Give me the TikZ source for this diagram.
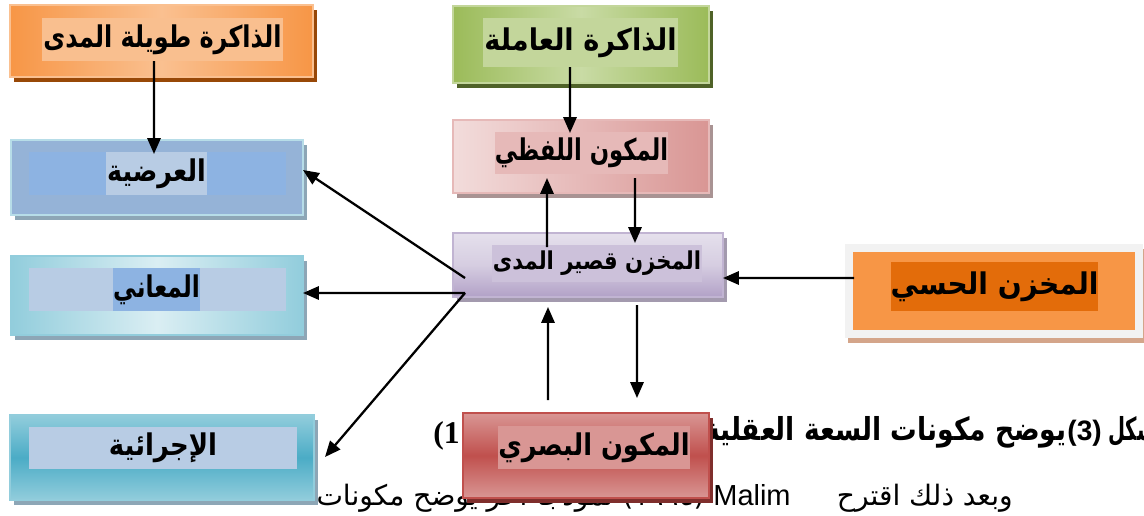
\documentclass[tikz,border=0pt]{standalone}
\usepackage{graphicx}
\usepackage{fontspec}
\setmainfont{Liberation Serif}
\newfontfamily\arfont[Script=Arabic]{DejaVu Sans}
\newfontfamily\lsans{Liberation Sans}
\TeXXeTstate=1
\usetikzlibrary{arrows.meta,shadows}
\newcommand\arlab[2]{\scalebox{#1}[1]{#2}}
\definecolor{orA}{HTML}{F79646}
\definecolor{orB}{HTML}{FAC090}
\definecolor{orC}{HTML}{F9BF8F}
\definecolor{orD}{HTML}{E36C0A}
\definecolor{orS}{HTML}{984807}
\definecolor{grA}{HTML}{9BBB59}
\definecolor{grB}{HTML}{C9DBA5}
\definecolor{grC}{HTML}{C3D69B}
\definecolor{grS}{HTML}{4F6228}
\definecolor{pkA}{HTML}{E6B9B8}
\definecolor{pkB}{HTML}{F2DCDB}
\definecolor{pkC}{HTML}{D99694}
\definecolor{pkS}{HTML}{A99393}
\definecolor{blA}{HTML}{95B3D7}
\definecolor{blB}{HTML}{8DB3E2}
\definecolor{blC}{HTML}{B8CCE4}
\definecolor{blD}{HTML}{B7DDE8}
\definecolor{blS}{HTML}{8DA6B6}
\definecolor{cyA}{HTML}{92CDDC}
\definecolor{cyB}{HTML}{DAEEF3}
\definecolor{cyC}{HTML}{4BACC6}
\definecolor{puA}{HTML}{B2A1C7}
\definecolor{puB}{HTML}{E5E0EC}
\definecolor{puC}{HTML}{CCC1DA}
\definecolor{puS}{HTML}{A39AAE}
\definecolor{rdA}{HTML}{C0504D}
\definecolor{rdB}{HTML}{D99694}
\definecolor{rdS}{HTML}{7F2E2C}
\definecolor{frm}{HTML}{F2F2F2}
\definecolor{tan}{HTML}{D4A58A}
\tikzset{
  sz/.style 2 args={minimum width=#1*0.02cm, minimum height=#2*0.02cm},
  base/.style={rectangle, inner sep=0pt, outer sep=0pt},
  shad/.style={drop shadow={shadow xshift=0.08cm, shadow yshift=-0.09cm, fill=#1, opacity=1}},
  lbl/.style={font=\arfont\bfseries\fontsize{17}{20}\selectfont},
  lblsm/.style={font=\arfont\bfseries\fontsize{14}{17}\selectfont},
  captxt/.style={font=\arfont\bfseries\fontsize{18}{21}\selectfont, inner sep=0pt},
  bodytxt/.style={font=\arfont\fontsize{16}{19}\selectfont, inner sep=0pt},
  arr/.style={line width=1.3pt, -{Triangle[length=9pt,width=7.5pt]}}
}
\begin{document}
\begin{tikzpicture}[x=0.02cm, y=-0.02cm]
\useasboundingbox (0,0) rectangle (1144,515);
\fill[white] (0,0) rectangle (1144,515);

% background text lines
\node[captxt, anchor=base east] (shk) at (1157,440) {\arlab{0.62}{\beginR شكل\endR}};
\node[font=\lsans\bfseries\fontsize{16}{19}\selectfont, inner sep=0pt, anchor=base east] (p3) at ([xshift=-0.12cm]shk.base west) {(3)};
\node[captxt, anchor=base east] (cap) at (p3.base west) {\arlab{0.84}{\beginR يوضح مكونات السعة العقلية\endR}};
\node[font=\bfseries\fontsize{18}{21}\selectfont, inner sep=0pt, anchor=base west] (one) at (433,443) {(1};

\node[bodytxt, anchor=base east] (bd1) at (1013,505) {\beginR وبعد ذلك اقترح\endR};
\node[font=\lsans\fontsize{16.5}{19}\selectfont, inner sep=0pt, anchor=base west] (mal) at (713,505) {Malim};
\node[bodytxt, anchor=base east] (bd2) at (705,505) {\beginR (١٩٩٤) نموذجا آخر يوضح مكونات\endR};

% boxes
\node[base, sz={303}{72}, shading=axis, left color=orA, right color=orA, middle color=orB, draw=orB, line width=0.8pt, shad=orS] (ltm) at (161.5,41) {};
\node[base, sz={241}{43}, fill=orC, lbl] (ltmt) at (162.5,39.5) {\arlab{0.80}{\beginR الذاكرة طويلة المدى\endR}};

\node[base, sz={256}{77}, shading=axis, left color=grA, right color=grA, middle color=grB, draw=grC, line width=0.8pt, shad=grS] (wm) at (581,44.5) {};
\node[base, sz={195}{49}, fill=grC, lbl] (wmt) at (580.5,42.5) {\arlab{0.91}{\beginR الذاكرة العاملة\endR}};

\node[base, sz={256}{73}, shading=axis, shading angle=100, left color=pkB, right color=pkC, middle color=pkA, draw=pkA, line width=0.8pt, shad=pkS] (vc) at (581,156.5) {};
\node[base, sz={173}{42}, fill=pkA, lbl] (vct) at (581.5,153) {\arlab{0.76}{\beginR المكون اللفظي\endR}};

\node[base, sz={292}{75}, fill=blA, draw=blD, line width=1.2pt, shad=blS] (epi) at (157,177.5) {};
\node[base, sz={257}{43}, fill=blB] (epiin) at (157.5,173.5) {};
\node[base, sz={101}{43}, fill=blC, lbl] (epit) at (156.5,173.5) {\arlab{0.85}{\beginR العرضية\endR}};

\node[base, sz={292}{79}, shading=axis, shading angle=60, left color=cyA, right color=cyA, middle color=cyB, draw=cyA, line width=1pt, shad=blS] (sem) at (157,295.5) {};
\node[base, sz={257}{43}, fill=blC] (semin) at (157.5,289.5) {};
\node[base, sz={87}{43}, fill=blB, lbl] (semt) at (156.5,289.5) {\arlab{0.78}{\beginR المعاني\endR}};

\node[base, sz={270}{64}, shading=axis, top color=puB, bottom color=puA, middle color=puB!70!puA, draw=puA!80, line width=0.8pt, shad=puS] (stm) at (588,265) {};
\node[base, sz={210}{37}, fill=puC, lblsm] (stmt) at (597,263.5) {\arlab{0.86}{\beginR المخزن قصير المدى\endR}};

\node[base, sz={290}{86}, fill=orA, draw=frm, line width=8*0.02cm, drop shadow={shadow xshift=0.06cm, shadow yshift=-0.1cm, fill=tan, draw=tan, line width=8*0.02cm, opacity=1}] (ss) at (994,291) {};
\node[base, sz={205}{49}, fill=orD, lbl] (sst) at (994.5,286.5) {\arlab{0.94}{\beginR المخزن الحسي\endR}};

\node[base, sz={304}{85}, shading=axis, top color=cyA, bottom color=cyA, middle color=cyC, draw=cyA, line width=1pt, shad=blS] (proc) at (162,457.5) {};
\node[base, sz={268}{42}, fill=blC, lbl] (proct) at (163,448) {\arlab{0.87}{\beginR الإجرائية\endR}};

\node[base, sz={246}{85}, shading=axis, top color=rdB, bottom color=rdB, middle color=rdA, draw=rdA, line width=1pt, shad=rdS] (vis) at (586,455.5) {};
\node[base, sz={190}{43}, fill=rdB, lbl] (vist) at (594,447.5) {\arlab{0.86}{\beginR المكون البصري\endR}};

% connectors
\draw[arr] ([xshift=-0.17cm]ltmt.south) -- ([xshift=-0.07cm,yshift=-0.04cm]epiin.north);
\draw[arr] ([xshift=-0.21cm]wmt.south) -- ([xshift=-0.23cm,yshift=-0.02cm]vct.north);
\draw[arr] ([xshift=1.07cm,yshift=-0.08cm]vct.south) -- ([xshift=0.76cm,yshift=0.04cm]stmt.north);
\draw[arr] ([xshift=-1cm,yshift=-0.04cm]stmt.north) -- ([xshift=-0.69cm,yshift=-0.08cm]vct.south);
\draw[arr] ([xshift=0.24cm,yshift=-0.26cm]stm.west) -- ([yshift=0.15cm]epi.east);
\draw[arr] ([xshift=0.24cm,yshift=-0.56cm]stm.west) -- ([yshift=0.05cm]sem.east);
\draw[arr] ([xshift=0.24cm,yshift=-0.56cm]stm.west) -- ([xshift=0.22cm,yshift=0.01cm]proc.east);
\draw[arr] ([xshift=0.1cm,yshift=0.26cm]ss.west) -- ([yshift=-0.26cm]stm.east);
\draw[arr] ([xshift=0.98cm,yshift=-0.16cm]stm.south) -- ([xshift=1.02cm,yshift=0.3cm]vis.north);
\draw[arr] ([xshift=-0.76cm,yshift=0.26cm]vis.north) -- ([xshift=-0.8cm,yshift=-0.2cm]stm.south);
\end{tikzpicture}
\end{document}
